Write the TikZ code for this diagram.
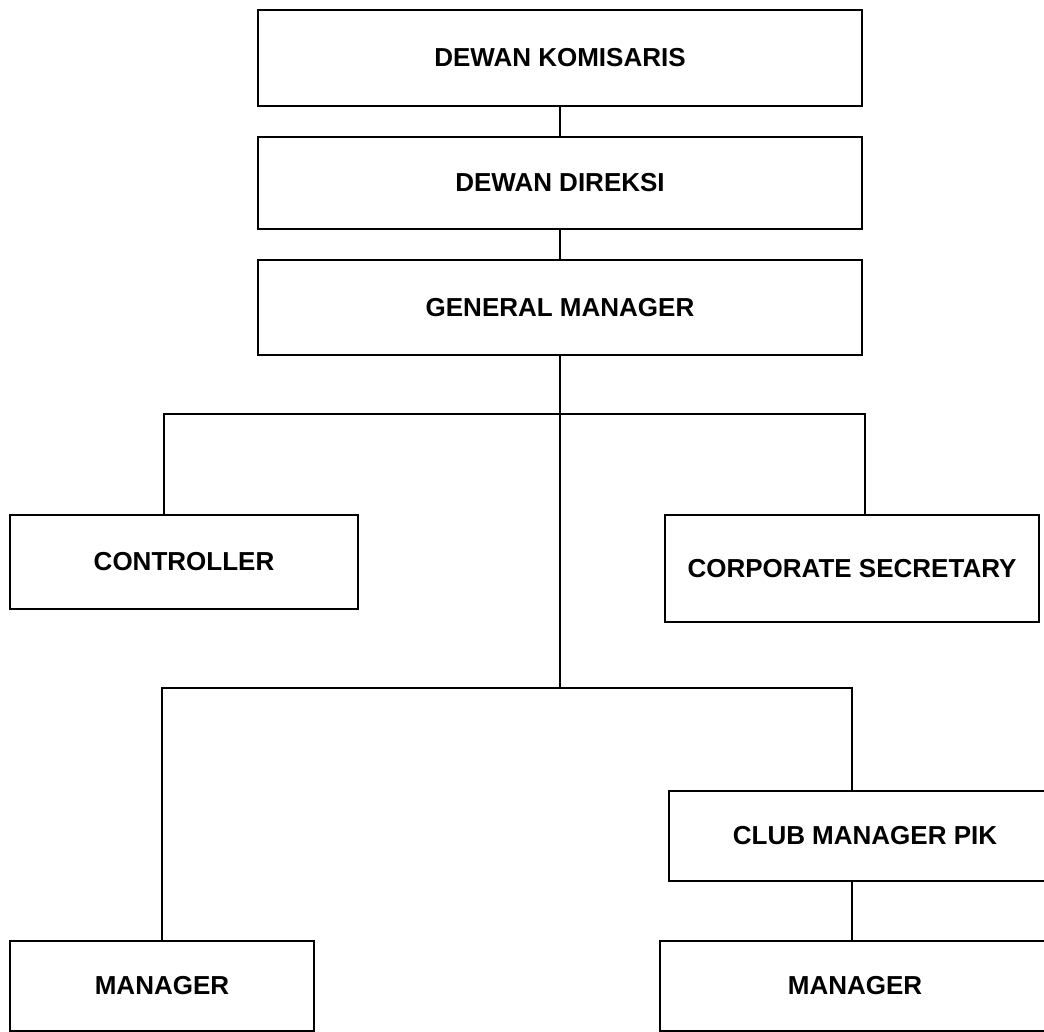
\documentclass[tikz,border=0pt]{standalone}
\usepackage{fontspec}
\setmainfont{Liberation Sans}
\usepackage{tikz}
\usetikzlibrary{positioning}

\begin{document}
\begin{tikzpicture}[x=1pt, y=-1pt,
        orgbox/.style={draw, line width=2.4pt, inner sep=0pt,
        font=\fontsize{26}{31}\selectfont\bfseries},
        link/.style={line width=2.4pt}]
        \useasboundingbox (0,0) rectangle (1044,1032);
        \clip (0,0) rectangle (1044,1032);

        % Top of the chart
        \node[orgbox, minimum width=604pt, minimum height=96pt] (komisaris) at (560,58) {DEWAN KOMISARIS};
        \node[orgbox, minimum width=604pt, minimum height=92pt] (direksi) at (560,183) {DEWAN DIREKSI};
        \node[orgbox, minimum width=604pt, minimum height=95pt] (genmgr) at (560,307.5) {GENERAL MANAGER};
        \draw[link] (komisaris) -- (direksi);
        \draw[link] (direksi) -- (genmgr);

        % Staff units under the general manager
        \node[orgbox, minimum width=348pt, minimum height=94pt] (controller) at (184,562) {CONTROLLER};
        \node[orgbox, minimum width=374pt, minimum height=107pt] (corpsec) at (852,568.5) {CORPORATE SECRETARY};
        \coordinate (split1) at (560,414);
        \coordinate (split2) at (560,688);
        \draw[link] (genmgr) -- (split2);
        \draw[link] ([xshift=-20pt]controller.north) |- (split1) -| ([xshift=13pt]corpsec.north);

        % Line units
        \node[orgbox, minimum width=304pt, minimum height=90pt] (mgrleft) at (162,986) {MANAGER};
        \node[orgbox, minimum width=392pt, minimum height=90pt] (clubmgr) at (865,836) {CLUB MANAGER PIK};
        \node[orgbox, minimum width=390pt, minimum height=90pt] (mgrright) at (855,986) {MANAGER};
        \draw[link] (mgrleft.north) |- (split2) -| ([xshift=-13pt]clubmgr.north);
        \draw[link] ([xshift=-13pt]clubmgr.south) -- ([xshift=-13pt]clubmgr.south |- mgrright.north);
    \end{tikzpicture}
\end{document}
